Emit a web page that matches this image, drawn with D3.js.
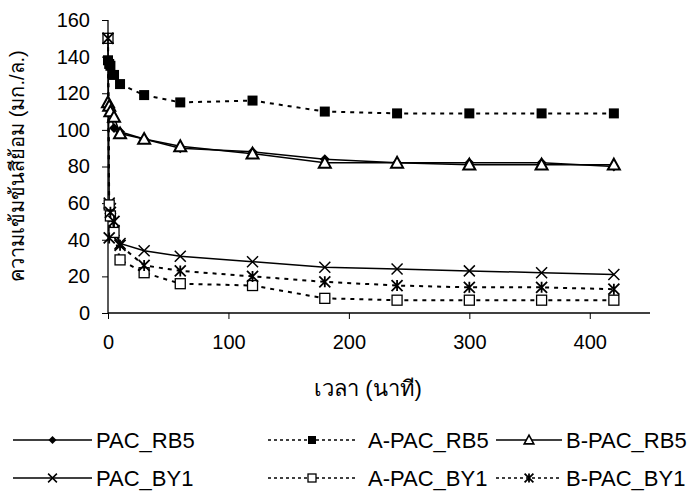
<!DOCTYPE html>
<html>
<head>
<meta charset="utf-8">
<script src="https://cdn.jsdelivr.net/npm/d3@7"></script>
<style>
body { margin: 0; background: #fff; }
text { font-family: "Liberation Sans", Arial, "Noto Sans", sans-serif; }
</style>
</head>
<body>
<script>
const wSvg = 689, hSvg = 496;

// time (minutes)
const times = [0, 1, 2, 5, 10, 30, 60, 120, 180, 240, 300, 360, 420];

const pacRB5 = [114, 112, 110, 101, 99, 95, 90, 88, 84, 82, 82, 82, 80];
const aPacRB5 = [138, 136, 135, 130, 125, 119, 115, 116, 110, 109, 109, 109, 109];
const bPacRB5 = [115, 113, 110, 107, 98, 95, 91, 87, 82, 82, 81, 81, 81];
const pacBY1 = [150, 60, 57, 45, 38, 34, 31, 28, 25, 24, 23, 22, 21];
const aPacBY1 = [150, 59, 53, 44, 29, 22, 16, 15, 8, 7, 7, 7, 7];
const bPacBY1 = [150, 41, 55, 50, 37, 26, 23, 20, 17, 15, 14, 14, 13];

const seriesNames = ["PAC_RB5", "A-PAC_RB5", "B-PAC_RB5", "PAC_BY1", "A-PAC_BY1", "B-PAC_BY1"];
const seriesValues = [pacRB5, aPacRB5, bPacRB5, pacBY1, aPacBY1, bPacBY1];
const seriesMarkers = ["diamond", "square", "triangle", "x", "squareOpen", "asterisk"];
const seriesDashed = [false, true, false, false, true, true];

const xTicks = [0, 100, 200, 300, 400];
const yTicks = [0, 20, 40, 60, 80, 100, 120, 140, 160];

const pLeft = 108, pRight = 650, pTop = 20, pBottom = 313;

const svg = d3.select("body").append("svg")
    .attr("width", wSvg)
    .attr("height", hSvg);

let scaleX = d3.scaleLinear().domain([0, 450]).range([pLeft, pRight]);
let scaleY = d3.scaleLinear().domain([0, 160]).range([pBottom, pTop]);

// axes
let axisY = d3.axisLeft(scaleY).tickValues(yTicks).tickSize(6).tickPadding(12);
let gy = svg.append("g").attr("transform", `translate(${pLeft},0)`).call(axisY);
let axisX = d3.axisBottom(scaleX).tickValues(xTicks).tickSize(6).tickPadding(16);
let gx = svg.append("g").attr("transform", `translate(0,${pBottom})`).call(axisX);

for (let g of [gx, gy]) {
    g.select(".domain").attr("stroke", "#000").attr("stroke-width", 1.3);
    g.selectAll(".tick line").attr("stroke", "#000").attr("stroke-width", 1);
    g.selectAll("text").attr("font-size", 20).attr("fill", "#000")
        .style("font-family", "'Liberation Sans', Arial, sans-serif");
}
gx.select(".domain").attr("d", `M${pLeft},0H${pRight}`);
gy.select(".domain").attr("d", `M0,${pBottom}V${pTop}`);

// titles
svg.append("text")
    .attr("x", 368).attr("y", 396)
    .attr("text-anchor", "middle")
    .attr("font-size", 22)
    .text("เวลา (นาที)");

svg.append("text")
    .attr("transform", `translate(24,166) rotate(-90)`)
    .attr("text-anchor", "middle")
    .attr("font-size", 20)
    .text("ความเข้มข้นสีย้อม (มก./ล.)");

function drawMarker(g, type, x, y, s) {
    s = s || 1;
    if (type === "diamond") {
        let r = 5 * s;
        g.append("path").attr("d", `M${x},${y - r}L${x + r},${y}L${x},${y + r}L${x - r},${y}Z`).attr("fill", "#000");
    } else if (type === "square") {
        let r = 5 * s;
        g.append("rect").attr("x", x - r).attr("y", y - r).attr("width", 2 * r).attr("height", 2 * r).attr("fill", "#000");
    } else if (type === "squareOpen") {
        let r = 5 * s;
        g.append("rect").attr("x", x - r).attr("y", y - r).attr("width", 2 * r).attr("height", 2 * r)
            .attr("fill", "#fff").attr("stroke", "#000").attr("stroke-width", 1.3);
    } else if (type === "triangle") {
        let r = 6 * s;
        g.append("path").attr("d", `M${x},${y - r}L${x + r},${y + r * 0.8}L${x - r},${y + r * 0.8}Z`)
            .attr("fill", "#fff").attr("stroke", "#000").attr("stroke-width", 2 * s);
    } else if (type === "x") {
        let r = 5.5 * s;
        g.append("path").attr("d", `M${x - r},${y - r}L${x + r},${y + r}M${x - r},${y + r}L${x + r},${y - r}`)
            .attr("stroke", "#000").attr("stroke-width", 1.5);
    } else if (type === "asterisk") {
        let r = 5.5 * s;
        g.append("path").attr("d", `M${x - r},${y - r}L${x + r},${y + r}M${x - r},${y + r}L${x + r},${y - r}M${x},${y - r}V${y + r}`)
            .attr("stroke", "#000").attr("stroke-width", 1.8);
    }
}

let line = d3.line().x((d, i) => scaleX(times[i])).y(d => scaleY(d));

seriesValues.forEach((vals, k) => {
    svg.append("path")
        .attr("d", line(vals))
        .attr("fill", "none")
        .attr("stroke", "#000")
        .attr("stroke-width", seriesDashed[k] ? 2 : 1.5)
        .attr("stroke-dasharray", seriesDashed[k] ? "4,5" : null);
});
seriesValues.forEach((vals, k) => {
    let g = svg.append("g");
    vals.forEach((v, i) => drawMarker(g, seriesMarkers[k], scaleX(times[i]), scaleY(v)));
});

// legend: three columns, two rows
const legendCols = [{ x1: 13, x2: 92, tx: 96 }, { x1: 268, x2: 356, tx: 368 }, { x1: 496, x2: 562, tx: 566 }];
const legendRows = [440, 478];
seriesNames.forEach((name, k) => {
    let c = legendCols[k % 3], ly = legendRows[Math.floor(k / 3)];
    let g = svg.append("g");
    g.append("line")
        .attr("x1", c.x1).attr("x2", c.x2).attr("y1", ly).attr("y2", ly)
        .attr("stroke", "#000")
        .attr("stroke-width", 1.5)
        .attr("stroke-dasharray", seriesDashed[k] ? "3,3" : null);
    drawMarker(g, seriesMarkers[k], (c.x1 + c.x2) / 2, ly, 0.8);
    g.append("text")
        .attr("x", c.tx)
        .attr("y", ly + 8)
        .attr("font-size", 22)
        .text(name);
});
</script>
</body>
</html>
